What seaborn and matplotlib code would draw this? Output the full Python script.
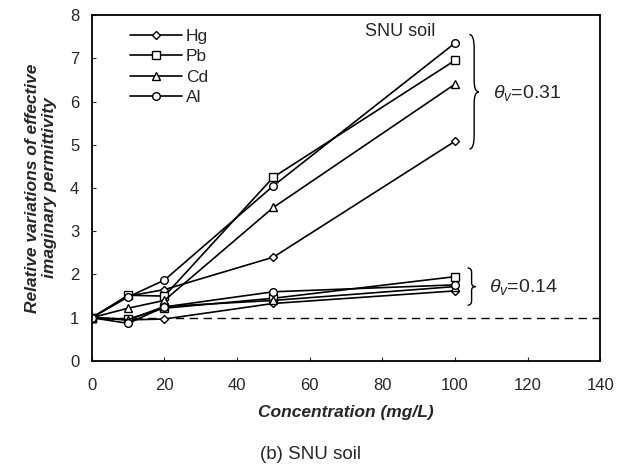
import numpy as np
import pandas as pd
import seaborn as sns
import matplotlib
matplotlib.use('Agg')
import matplotlib.pyplot as plt
from matplotlib.path import Path
from matplotlib.patches import PathPatch

# 浓度 (mg/L)
conc = [0, 10, 20, 50, 100]
metals = ['Hg', 'Pb', 'Cd', 'Al']
markers = {'Hg': 'D', 'Pb': 's', 'Cd': '^', 'Al': 'o'}
msize = {'Hg': 4.5, 'Pb': 5.5, 'Cd': 6, 'Al': 5.5}

# theta_v = 0.31
hg_high = [1.0, 1.50, 1.65, 2.40, 5.08]
pb_high = [1.0, 1.52, 1.50, 4.25, 6.95]
cd_high = [1.0, 1.22, 1.40, 3.55, 6.40]
al_high = [1.0, 1.48, 1.87, 4.05, 7.35]
# theta_v = 0.14
hg_low = [1.0, 0.95, 0.97, 1.33, 1.62]
pb_low = [1.0, 0.97, 1.22, 1.45, 1.95]
cd_low = [1.0, 0.95, 1.26, 1.40, 1.72]
al_low = [1.0, 0.87, 1.25, 1.60, 1.76]

high = dict(zip(metals, [hg_high, pb_high, cd_high, al_high]))
low = dict(zip(metals, [hg_low, pb_low, cd_low, al_low]))

sns.set_style('ticks')
plt.rcParams['font.family'] = ['Liberation Sans', 'DejaVu Sans']
plt.rcParams['mathtext.fontset'] = 'custom'
plt.rcParams['mathtext.it'] = 'Liberation Sans:italic'

fig = plt.figure(figsize=(6.2, 4.7), dpi=100)
ax = fig.add_axes([0.148, 0.232, 0.82, 0.736])

handles = []
for group in (high, low):
    for m in metals:
        df = pd.DataFrame({'x': conc, 'y': group[m]})
        sns.lineplot(data=df, x='x', y='y', ax=ax, color='black', lw=1.2,
                     marker=markers[m], markersize=msize[m],
                     markerfacecolor='white', markeredgecolor='black',
                     markeredgewidth=1.0)
        if group is high:
            handles.append(ax.lines[-1])

# 参考线
ax.axhline(1.0, color='black', lw=1.0, ls=(0, (6, 4)), zorder=0)

ax.set_xlim(0, 140)
ax.set_ylim(0, 8)
ax.set_xticks(np.arange(0, 141, 20))
ax.set_yticks(np.arange(0, 9, 1))
ax.tick_params(direction='in', length=3, width=0.8, labelsize=12, pad=12)
ax.tick_params(axis='y', pad=9)
for s in ax.spines.values():
    s.set_linewidth(1.3)
    s.set_color('black')

ax.set_xlabel('Concentration (mg/L)', fontsize=12.5, fontweight='bold',
              fontstyle='italic', labelpad=9)
ax.set_ylabel('Relative variations of effective\nimaginary permittivity',
              fontsize=12.5, fontweight='bold', fontstyle='italic', labelpad=9)

leg = ax.legend(handles, metals, loc='upper left', frameon=False,
                fontsize=12.5, handlelength=3.0, handletextpad=0.2,
                labelspacing=0.3, bbox_to_anchor=(0.055, 0.99),
                borderaxespad=0.2)

ax.text(85, 7.62, 'SNU soil', fontsize=13, ha='center', va='center')


def brace(ax, x, y0, y1, w):
    ym = (y0 + y1) / 2
    verts = [(x, y1), (x + w * 0.5, y1), (x + w * 0.5, y1 - 0.12 * (y1 - y0)),
             (x + w * 0.5, ym + 0.1 * (y1 - y0)),
             (x + w * 0.5, ym), (x + w, ym), (x + w, ym),
             (x + w * 0.5, ym), (x + w * 0.5, ym - 0.1 * (y1 - y0)),
             (x + w * 0.5, y0 + 0.12 * (y1 - y0)),
             (x + w * 0.5, y0), (x, y0)]
    codes = [Path.MOVETO, Path.CURVE3, Path.CURVE3, Path.LINETO,
             Path.CURVE3, Path.CURVE3, Path.MOVETO,
             Path.CURVE3, Path.CURVE3, Path.LINETO,
             Path.CURVE3, Path.CURVE3]
    ax.add_patch(PathPatch(Path(verts, codes), fc='none', ec='black', lw=1.0,
                           clip_on=False))


brace(ax, 104.0, 4.9, 7.55, 2.6)
brace(ax, 103.5, 1.29, 2.15, 2.2)
ax.text(110.5, 6.2, r'$\theta_v$=0.31', fontsize=14, ha='left', va='center')
ax.text(109.5, 1.72, r'$\theta_v$=0.14', fontsize=14, ha='left', va='center')

fig.text(0.5, 0.032, '(b) SNU soil', fontsize=13.5, ha='center', va='center')

fig.savefig('out.png', dpi=100)
